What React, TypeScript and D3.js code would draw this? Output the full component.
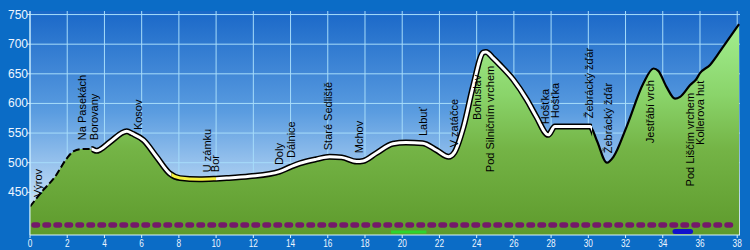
import React from "react";
import * as d3 from "d3";

const kms = [0,0.72,1.34,1.97,2.33,2.78,3.3,3.58,3.76,4.3,5.2,5.5,6.1,6.8,7.5,8.06,9.1,10.0,10.57,11.8,13.4,14.0,14.5,15.4,16.1,16.75,17.55,17.9,18.6,19.5,20.2,21.1,21.85,22.5,22.8,23.3,23.8,24.36,24.5,24.9,25.25,25.97,26.7,27.2,27.85,28.2,30.1,30.45,31.0,31.35,32.06,32.96,33.5,33.76,34.2,34.66,34.93,35.47,35.8,36.0,36.54,37.25,38.1];
const elev = [426,454,476,507,519,523,523,520,522,535,553,549,538,510,482,474,472,473,474,477,485,493,499,506,510,509,502,503,516,532,534,533,521,510,517,561,628,686,687,676,665,640,606,578,547,561,561,538,500,510,561,634,659,655,628,608,611,631,641,651,665,696,734];

const xTicks = d3.range(0, 39, 2);
const yTicks = [450, 500, 550, 600, 650, 700, 750];

const labelNames = ["Výrov","Na Pasekách","Borovany","Kosov","U zámku","Bor","Doly","Dálnice","Staré Sedliště","Mchov","Labuť","V zatáčce","Bohuslav","Pod Silničním vrchem","Hošťka","Hošťka","Žebrácký žďár","Žebrácký žďár","Jestřábí vrch","Pod Liščím vrchem","Kollerova huť"];
const labelKm = [0.64,3.0,3.65,6.02,9.73,10.16,13.6,14.24,16.23,17.9,21.33,23.0,24.23,24.93,27.9,28.4,30.25,31.27,33.53,35.68,36.2];
const labelElev = [442,538,538,555,484,484,496,508,521,516,545,526,572,484,565,575,575,516,533,460,530];

// style ranges (km)
const dashedRange = [0, 3.3];
const whiteRanges = [[3.3, 7.6], [10.0, 30.2]];
const yellowRange = [7.6, 10.0];
const blackRange = [30.2, 38.2];

const dottedElev = 395;
const greenSeg = [19.4, 21.3];
const blueSeg = [34.55, 35.6];

export default function App() {
  const W = 750, H = 250;
  const left = 30, right = 740, top = 11, bottom = 235;
  const x = d3.scaleLinear().domain([0, 38.15]).range([left, right]);
  const y = d3.scaleLinear().domain([378, 756]).range([bottom, top]);
  const pts: [number, number][] = kms.map((k, i) => [k, elev[i]]);
  const line = d3.line<[number, number]>().x(d => x(d[0])).y(d => y(d[1])).curve(d3.curveMonotoneX);
  const area = d3.area<[number, number]>().x(d => x(d[0])).y0(bottom).y1(d => y(d[1])).curve(d3.curveMonotoneX);
  const lp = line(pts) || "";
  const ap = area(pts) || "";
  const font = "'Liberation Sans', Arial, sans-serif";

  const clipRect = (id: string, r: number[]) => (
    <clipPath id={id} key={id}>
      <rect x={x(r[0])} y={0} width={x(r[1]) - x(r[0])} height={H} />
    </clipPath>
  );

  return (
    <svg width={W} height={H} style={{ position: "absolute", left: 0, top: 0 }}>
      <defs>
        <linearGradient id="sky" gradientUnits="userSpaceOnUse" x1={0} y1={top} x2={0} y2={bottom}>
          <stop offset="0" stopColor="#1a68c8" />
          <stop offset="0.45" stopColor="#5a9ce0" />
          <stop offset="0.85" stopColor="#c4def6" />
          <stop offset="1" stopColor="#e2f0fc" />
        </linearGradient>
        <linearGradient id="grass" gradientUnits="userSpaceOnUse" x1={0} y1={20} x2={0} y2={bottom}>
          <stop offset="0" stopColor="#a4f092" />
          <stop offset="0.35" stopColor="#8ad46a" />
          <stop offset="0.6" stopColor="#74b446" />
          <stop offset="1" stopColor="#5e9a2c" />
        </linearGradient>
        {clipRect("cDash", dashedRange)}
        {clipRect("cW1", whiteRanges[0])}
        {clipRect("cW2", whiteRanges[1])}
        {clipRect("cY", yellowRange)}
        {clipRect("cB", blackRange)}
        {clipRect("cOut", [whiteRanges[0][0], whiteRanges[1][1]])}
      </defs>
      <rect x={0} y={0} width={W} height={H} fill="#0b6cc6" />
      <rect x={left} y={top} width={right - left} height={bottom - top} fill="url(#sky)" />
      {xTicks.map(t => (
        <line key={"gx" + t} x1={x(t)} x2={x(t)} y1={top} y2={bottom} stroke="#a6dcfa" strokeWidth={1} />
      ))}
      {yTicks.map(t => (
        <line key={"gy" + t} x1={left} x2={right} y1={y(t)} y2={y(t)} stroke="#a6dcfa" strokeWidth={1} />
      ))}
      <path d={ap} fill="url(#grass)" />
      <path d={lp} fill="none" stroke="#000" strokeWidth={6} clipPath="url(#cOut)" />
      <path d={lp} fill="none" stroke="#fff" strokeWidth={3} clipPath="url(#cW1)" />
      <path d={lp} fill="none" stroke="#fff" strokeWidth={3} clipPath="url(#cW2)" />
      <path d={lp} fill="none" stroke="#f4f040" strokeWidth={3} clipPath="url(#cY)" />
      <path d={lp} fill="none" stroke="#000" strokeWidth={2} strokeDasharray="7 3" clipPath="url(#cDash)" />
      <path d={lp} fill="none" stroke="#000" strokeWidth={2.2} clipPath="url(#cB)" />
      {labelNames.map((n, i) => {
        const lx = x(labelKm[i]);
        const ly = y(labelElev[i]);
        return (
          <text key={"l" + i} x={lx} y={ly} transform={`rotate(-90 ${lx} ${ly})`} fontFamily={font} fontSize={11} fill="#000">
            {n}
          </text>
        );
      })}
      <line x1={x(0) + 4} x2={right - 2} y1={y(dottedElev)} y2={y(dottedElev)} stroke="#74196a" strokeWidth={5.5} strokeDasharray="3.5 7.5" strokeLinecap="round" />
      <line x1={x(greenSeg[0])} x2={x(greenSeg[1])} y1={232} y2={232} stroke="#2ed42e" strokeWidth={3} />
      <line x1={x(blueSeg[0]) + 2} x2={x(blueSeg[1]) - 2} y1={231.5} y2={231.5} stroke="#1212cc" strokeWidth={5} strokeLinecap="round" />
      <line x1={left} x2={right} y1={bottom} y2={bottom} stroke="#d8f2ff" strokeWidth={1} />
      <line x1={left} x2={left} y1={top} y2={bottom} stroke="#d8f2ff" strokeWidth={1} />
      {xTicks.map(t => (
        <g key={"tx" + t}>
          <line x1={x(t)} x2={x(t)} y1={bottom} y2={bottom + 3} stroke="#d8f2ff" />
          <text transform={`translate(${x(t)} ${243}) scale(0.75 1)`} textAnchor="middle" dominantBaseline="central" fontFamily={font} fontSize={11} fill="#eef6ff">
            {t}
          </text>
        </g>
      ))}
      {yTicks.map(t => (
        <g key={"ty" + t}>
          <line x1={left - 3} x2={left} y1={y(t)} y2={y(t)} stroke="#d8f2ff" />
          <text x={left - 2} y={y(t)} textAnchor="end" dominantBaseline="central" fontFamily={font} fontSize={12} fill="#eef6ff">
            {t}
          </text>
        </g>
      ))}
    </svg>
  );
}
